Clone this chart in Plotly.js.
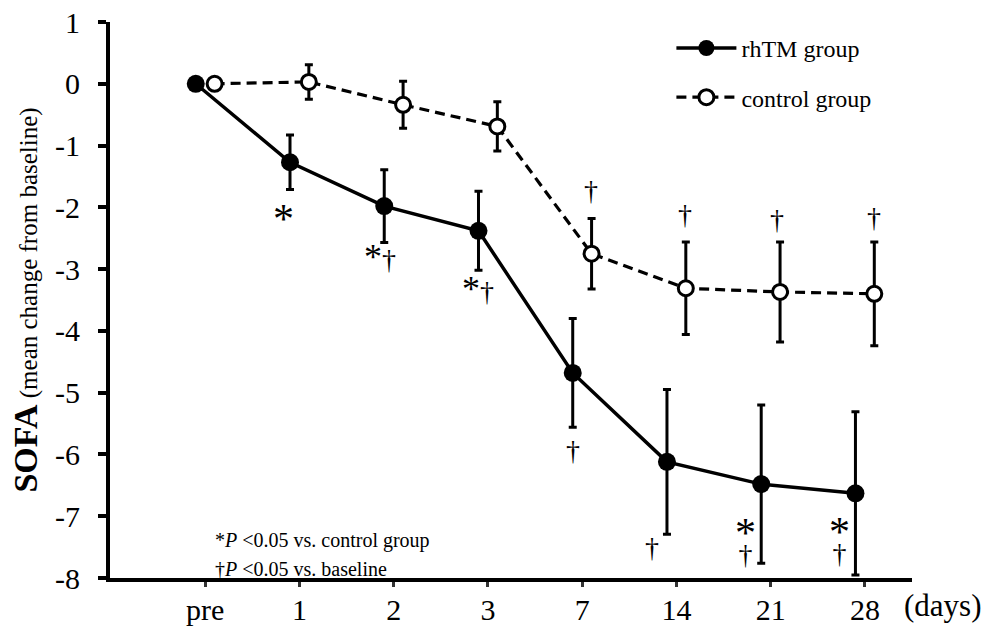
<!DOCTYPE html>
<html>
<head>
<meta charset="utf-8">
<script src="https://cdn.plot.ly/plotly-3.0.1.min.js"></script>
<style>html,body{margin:0;padding:0;background:#fff;}#chart{width:989px;height:626px;}</style>
</head>
<body>
<div id="chart"></div>
<script>
// ---- data ----
const categories = ["pre", "1", "2", "3", "7", "14", "21", "28"];
const rhtmMean = [0, -1.27, -1.98, -2.38, -4.68, -6.12, -6.48, -6.63];
const rhtmErr  = [0, 0.44, 0.59, 0.64, 0.88, 1.17, 1.28, 1.32];
const ctrlMean = [0, 0.03, -0.34, -0.69, -2.75, -3.31, -3.37, -3.40];
const ctrlErr  = [0, 0.28, 0.38, 0.40, 0.57, 0.75, 0.81, 0.84];
const yTicks = [1, 0, -1, -2, -3, -4, -5, -6, -7, -8];
// significance marks: [category index, kind, y (data units), x offset]
const rhtmMarks = [
  [1, "*", -2.04, -0.17],
  [2, "*†", -2.77, -0.15],
  [3, "*†", -3.29, -0.10],
  [4, "†", -5.93, -0.10],
  [5, "†", -7.50, -0.26],
  [6, "*/†", -7.35, -0.27],
  [7, "*/†", -7.33, -0.27]
];
const ctrlMarks = [
  [4, "†", -1.72, 0.09],
  [5, "†", -2.12, 0.09],
  [6, "†", -2.20, 0.07],
  [7, "†", -2.17, 0.10]
];

const FONT = "Liberation Serif";
const idx = categories.map((c, i) => i);
const shift = 0.1;

const traces = [
  {
    name: "rhTM group",
    x: idx.map(i => i - shift),
    y: rhtmMean,
    mode: "lines+markers",
    line: {color: "#000", width: 3.5},
    marker: {symbol: "circle", size: 18, color: "#000"},
    error_y: {type: "data", array: rhtmErr, visible: true, color: "#000", thickness: 3, width: 4}
  },
  {
    name: "control group",
    x: idx.map(i => i + shift),
    y: ctrlMean,
    mode: "lines+markers",
    line: {color: "#000", width: 3.2, dash: "10px,6px"},
    marker: {symbol: "circle", size: 15, color: "#fff", line: {color: "#000", width: 3}},
    error_y: {type: "data", array: ctrlErr, visible: true, color: "#000", thickness: 3, width: 4}
  }
];

const STAR = "<span style='font-size:42px'>*</span>";
const STAR_SM = "<span style='font-size:36px'>*</span>";
const DAG = "<span style='font-size:28px'>†</span>";
function markAnn(m) {
  let text, size = 28, yshift = 0;
  if (m[1] === "*") { text = STAR; yshift = -9; }
  else if (m[1] === "†") { text = DAG; }
  else if (m[1] === "*†") { text = STAR_SM + DAG; yshift = -2; }
  else { text = STAR + "<br>" + DAG; size = 13; yshift = -2; }
  return {
    x: m[0] + m[3], y: m[2], xref: "x", yref: "y",
    text: text, showarrow: false,
    font: {family: FONT, size: size, color: "#000"},
    xanchor: "center", yanchor: "middle",
    yshift: yshift
  };
}

const annotations = rhtmMarks.concat(ctrlMarks).map(markAnn);
annotations.push(
  {xref: "paper", yref: "paper", x: 0.988, y: -0.05, xanchor: "left", yanchor: "middle",
   text: "(days)", showarrow: false, font: {family: FONT, size: 31, color: "#000"}},
  {xref: "paper", yref: "paper", x: 0.128, y: 0.068, xanchor: "left", yanchor: "middle",
   text: "*<i>P</i> &lt;0.05 vs. control group", showarrow: false, font: {family: FONT, size: 20, color: "#000"}},
  {xref: "paper", yref: "paper", x: 0.128, y: 0.016, xanchor: "left", yanchor: "middle",
   text: "†<i>P</i> &lt;0.05 vs. baseline", showarrow: false, font: {family: FONT, size: 20, color: "#000"}}
);

const layout = {
  width: 989, height: 626,
  margin: {l: 110, r: 77, t: 22, b: 48},
  paper_bgcolor: "#fff", plot_bgcolor: "#fff",
  font: {family: FONT, color: "#000"},
  showlegend: true,
  legend: {
    x: 0.70, y: 0.993, xanchor: "left", yanchor: "top",
    font: {family: FONT, size: 24, color: "#000"},
    bgcolor: "rgba(0,0,0,0)", itemwidth: 60,
    traceorder: "grouped", tracegroupgap: 15
  },
  xaxis: {
    range: [-1.01, 7.5],
    tickvals: idx, ticktext: categories,
    showgrid: false, zeroline: false,
    showline: true, linecolor: "#000", linewidth: 4,
    ticks: "outside", ticklen: 5, tickwidth: 3, tickcolor: "#333",
    ticklabelstandoff: -3,
    tickfont: {family: FONT, size: 30, color: "#000"},
    fixedrange: true
  },
  yaxis: {
    range: [-8, 1],
    tickvals: yTicks, ticktext: yTicks.map(v => String(v)),
    showgrid: false, zeroline: false,
    showline: true, linecolor: "#000", linewidth: 4,
    ticks: "outside", ticklen: 8, tickwidth: 4, tickcolor: "#000",
    ticklabelstandoff: 12,
    tickfont: {family: FONT, size: 30, color: "#000"},
    title: {
      text: "<b>SOFA</b><span style='font-size:25px'> (mean change from baseline)</span>",
      font: {family: FONT, size: 34, color: "#000"},
      standoff: 8
    },
    fixedrange: true
  },
  annotations: annotations
};

Plotly.newPlot("chart", traces.map((t, i) => Object.assign({legendgroup: "g" + i}, t)), layout, {displayModeBar: false, staticPlot: true});
</script>
</body>
</html>
